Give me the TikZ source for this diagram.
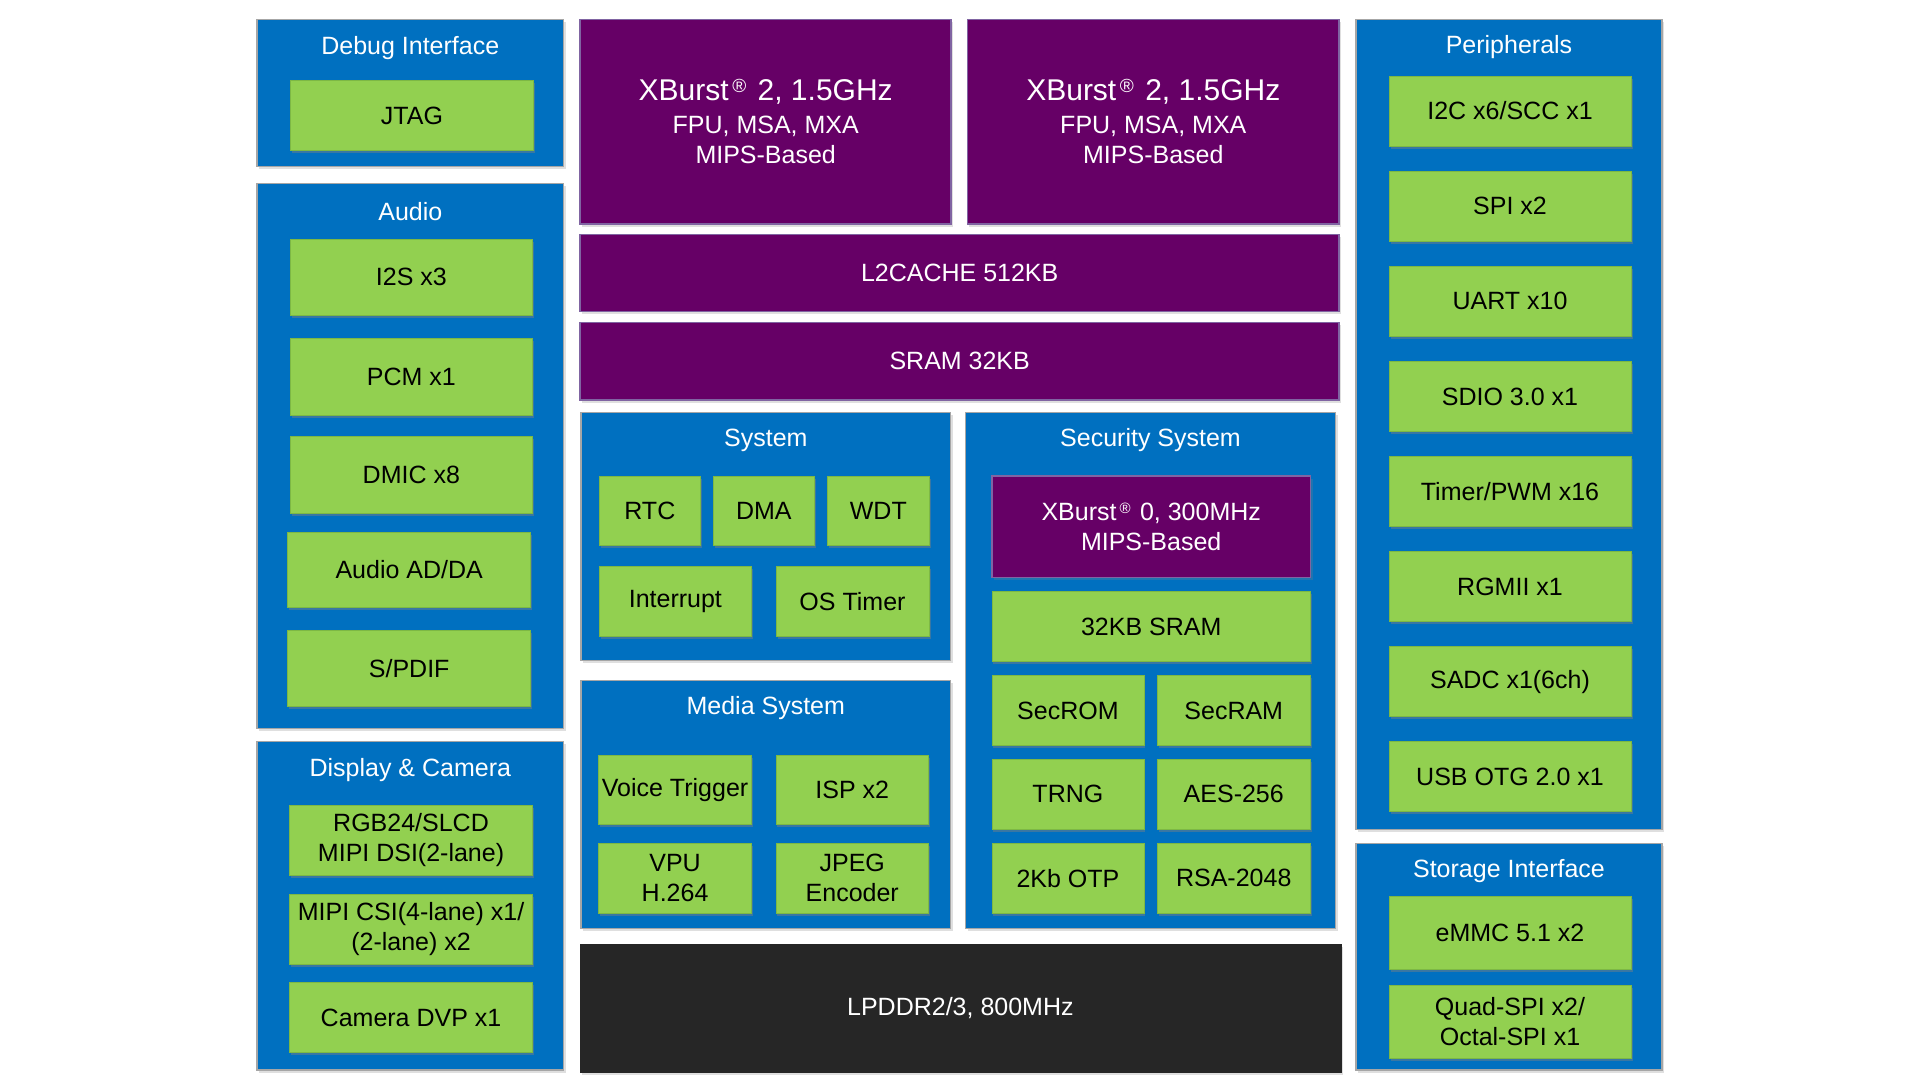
\documentclass[tikz,border=0pt]{standalone}
\usepackage{fontspec}
\setmainfont{Liberation Sans}
\usetikzlibrary{shadows}
\definecolor{blu}{HTML}{0070C0}
\definecolor{grn}{HTML}{92D050}
\definecolor{grnb}{HTML}{7DB844}
\definecolor{pur}{HTML}{660066}
\definecolor{purb}{HTML}{8064A2}
\definecolor{ddr}{HTML}{262626}
\definecolor{gbord}{HTML}{A6A6A6}
\newcommand\bx[7]{\node[#6, minimum width={(#4-#2)*1pt}, minimum height={(#5-#3)*1pt}] (#1) at ({(#2+#4)/2},{(#3+#5)/2}) {#7};}
\newcommand\regm[2]{\hspace{0.12em}\raisebox{#2pt}{\fontsize{#1}{#1}\selectfont ®}\hspace{0.1em} }
\begin{document}
\begin{tikzpicture}[x=1pt,y=-1pt,
  txt/.style={font=\fontsize{25}{30}\selectfont, align=center, inner sep=0pt, outer sep=0pt},
  grp/.style={fill=blu, draw=gbord, line width=1.5pt, inner sep=0pt,
     drop shadow={shadow xshift=2pt, shadow yshift=-2.5pt, opacity=.25}},
  blk/.style={txt, fill=grn, draw=grnb, line width=0.6pt, text=black,
     drop shadow={shadow xshift=1.5pt, shadow yshift=-2.5pt, opacity=.45}},
  cpu/.style={txt, fill=pur, draw=purb, line width=1.5pt, text=white,
     drop shadow={shadow xshift=2pt, shadow yshift=-2.5pt, opacity=.25}},
  mem/.style={txt, fill=ddr, draw=ddr, line width=0.6pt, text=white,
     drop shadow={shadow xshift=2pt, shadow yshift=-2.5pt, opacity=.25}},
  ttl/.style={txt, text=white}]
\fill[white] (0,0) rectangle (1920,1080);
\useasboundingbox (0,0) rectangle (1920,1080);

% ---------- left column ----------
\bx{dbg}{257}{19.3}{563.7}{166.7}{grp}{}
\node[ttl] (dbgt) at (410.3,48.5) {Debug Interface};
\bx{jtag}{290.5}{80.3}{533.4}{150.7}{blk}{JTAG}

\bx{aud}{257}{183.3}{563.7}{728.3}{grp}{}
\node[ttl] (audt) at (410.3,212) {Audio};
\bx{i2s}{290}{239}{532.7}{315.7}{blk}{I2S x3}
\bx{pcm}{290}{338.3}{532.7}{415.3}{blk}{PCM x1}
\bx{dmic}{290}{436.7}{532.7}{513.3}{blk}{DMIC x8}
\bx{adda}{287.7}{532}{530.7}{607.3}{blk}{Audio AD/DA}
\bx{spdif}{287.7}{630}{530.7}{706.7}{blk}{S/PDIF}

\bx{dc}{257}{741.7}{563.7}{1070}{grp}{}
\node[ttl] (dct) at (410.3,770.5) {Display \& Camera};
\bx{rgb}{289.6}{805.7}{532.5}{875}{blk}{RGB24/SLCD\\MIPI DSI(2-lane)}
\bx{csi}{289.6}{894}{532.5}{964}{blk}{MIPI CSI(4-lane) x1/\\(2-lane) x2}
\bx{dvp}{289.6}{982.7}{532.5}{1052.7}{blk}{Camera DVP x1}

% ---------- center ----------
\bx{cpua}{580.2}{19.3}{951.2}{224}{cpu}{{\fontsize{30}{34}\selectfont XBurst\regm{19}{8}2, 1.5GHz}\\[2.5pt]FPU, MSA, MXA\\MIPS-Based}
\bx{cpub}{967.4}{19.3}{1339.2}{224}{cpu}{{\fontsize{30}{34}\selectfont XBurst\regm{19}{8}2, 1.5GHz}\\[2.5pt]FPU, MSA, MXA\\MIPS-Based}
\bx{l2}{580.2}{234.3}{1339.2}{311.7}{cpu}{L2CACHE 512KB}
\bx{sram}{580.2}{322.7}{1339.2}{400}{cpu}{SRAM 32KB}

\bx{sys}{581.2}{412.3}{950.5}{660.5}{grp}{}
\node[ttl] (syst) at (765.8,440.5) {System};
\bx{rtc}{599}{476}{700.7}{545.7}{blk}{RTC}
\bx{dma}{713.3}{476}{814.3}{545.7}{blk}{DMA}
\bx{wdt}{827.7}{476}{929}{545.7}{blk}{WDT}
\bx{intr}{599}{566.7}{751.7}{636.7}{blk}{Interrupt}
\bx{ostm}{776}{566.7}{929}{636.7}{blk}{OS Timer}

\bx{med}{581.2}{680.7}{950.5}{928.3}{grp}{}
\node[ttl] (medt) at (765.8,708.5) {Media System};
\bx{voice}{598.6}{755}{751.5}{824.3}{blk}{Voice Trigger}
\bx{isp}{775.8}{755}{928.7}{824.3}{blk}{ISP x2}
\bx{vpu}{598.6}{843.3}{751.5}{913.3}{blk}{VPU\\H.264}
\bx{jpeg}{775.8}{843.3}{928.7}{913.3}{blk}{JPEG\\Encoder}

\bx{sec}{965.5}{412.3}{1335.5}{928.3}{grp}{}
\node[ttl] (sect) at (1150.5,440.5) {Security System};
\bx{xb0}{991.9}{476}{1310.5}{577.3}{cpu}{XBurst\regm{15}{6.5}0, 300MHz\\MIPS-Based}
\bx{ssram}{991.9}{591.7}{1310.5}{661.7}{blk}{32KB SRAM}
\bx{srom}{991.9}{675.7}{1143.9}{745.7}{blk}{SecROM}
\bx{sram2}{1157}{675.7}{1310.5}{745.7}{blk}{SecRAM}
\bx{trng}{991.9}{759}{1143.9}{829}{blk}{TRNG}
\bx{aes}{1157}{759}{1310.5}{829}{blk}{AES-256}
\bx{otp}{991.9}{843.3}{1143.9}{913.3}{blk}{2Kb OTP}
\bx{rsa}{1157}{843.3}{1310.5}{913.3}{blk}{RSA-2048}

\bx{ddr}{579.8}{944}{1341}{1072.7}{mem}{LPDDR2/3, 800MHz}

% ---------- right column ----------
\bx{per}{1356}{19.3}{1662}{829.3}{grp}{}
\node[ttl] (pert) at (1509,47.5) {Peripherals};
\bx{i2c}{1389}{76}{1631}{146}{blk}{I2C x6/SCC x1}
\bx{spi}{1389}{171}{1631}{241}{blk}{SPI x2}
\bx{uart}{1389}{266}{1631}{336}{blk}{UART x10}
\bx{sdio}{1389}{361.5}{1631}{431.5}{blk}{SDIO 3.0 x1}
\bx{tmr}{1389}{456.7}{1631}{526.7}{blk}{Timer/PWM x16}
\bx{rgmii}{1389}{551.7}{1631}{621.7}{blk}{RGMII x1}
\bx{sadc}{1389}{646.7}{1631}{716.7}{blk}{SADC x1(6ch)}
\bx{usb}{1389}{741.7}{1631}{811.7}{blk}{USB OTG 2.0 x1}

\bx{sto}{1356}{843.3}{1662}{1070}{grp}{}
\node[ttl] (stot) at (1509,871.5) {Storage Interface};
\bx{emmc}{1389}{896}{1631}{969.3}{blk}{eMMC 5.1 x2}
\bx{qspi}{1389}{985}{1631}{1058.3}{blk}{Quad-SPI x2/\\Octal-SPI x1}
\end{tikzpicture}
\end{document}
